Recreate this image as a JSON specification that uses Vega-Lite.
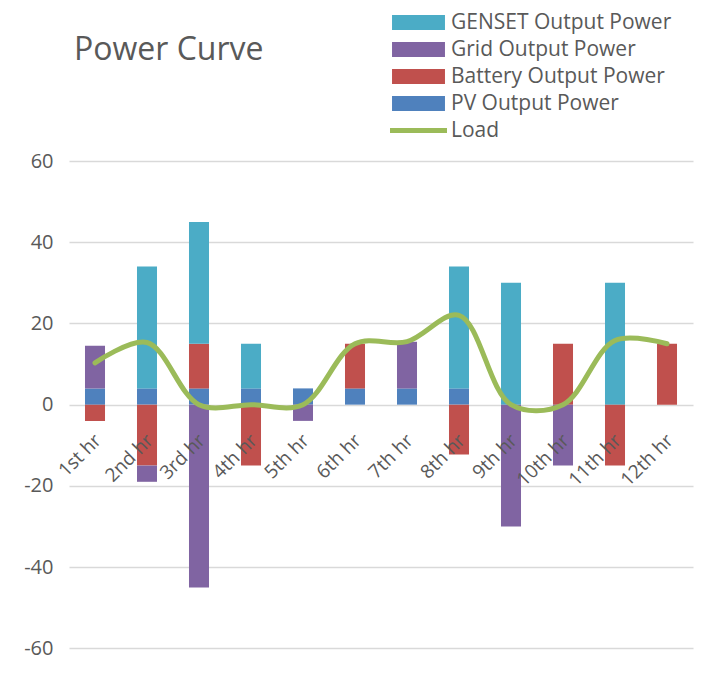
{
  "$schema": "https://vega.github.io/schema/vega-lite/v6.json",
  "width": 624,
  "height": 521,
  "autosize": {"type": "none"},
  "padding": {"left": 69, "top": 161, "right": 12, "bottom": 0},
  "background": "white",
  "config": {
    "font": "Open Sans",
    "view": {"stroke": null},
    "axis": {"labelFont": "Open Sans", "labelColor": "#595959"}
  },
  "title": {
    "text": "Power Curve",
    "anchor": "start",
    "frame": "group",
    "orient": "top",
    "offset": 0,
    "baseline": "alphabetic",
    "fontSize": 32,
    "fontWeight": "normal",
    "font": "Open Sans",
    "color": "#595959",
    "dx": 5,
    "dy": 80
  },
  "datasets": {
    "power": [
      {"hour": "1st hr", "series": "PV Output Power", "value": 4},
      {"hour": "1st hr", "series": "Grid Output Power", "value": 10.5},
      {"hour": "1st hr", "series": "Battery Output Power", "value": -4},
      {"hour": "2nd hr", "series": "PV Output Power", "value": 4},
      {"hour": "2nd hr", "series": "GENSET Output Power", "value": 30},
      {"hour": "2nd hr", "series": "Battery Output Power", "value": -15},
      {"hour": "2nd hr", "series": "Grid Output Power", "value": -4},
      {"hour": "3rd hr", "series": "PV Output Power", "value": 4},
      {"hour": "3rd hr", "series": "Battery Output Power", "value": 11},
      {"hour": "3rd hr", "series": "GENSET Output Power", "value": 30},
      {"hour": "3rd hr", "series": "Grid Output Power", "value": -45},
      {"hour": "4th hr", "series": "PV Output Power", "value": 4},
      {"hour": "4th hr", "series": "GENSET Output Power", "value": 11},
      {"hour": "4th hr", "series": "Battery Output Power", "value": -15},
      {"hour": "5th hr", "series": "PV Output Power", "value": 4},
      {"hour": "5th hr", "series": "Grid Output Power", "value": -4},
      {"hour": "6th hr", "series": "PV Output Power", "value": 4},
      {"hour": "6th hr", "series": "Battery Output Power", "value": 11},
      {"hour": "7th hr", "series": "PV Output Power", "value": 4},
      {"hour": "7th hr", "series": "Grid Output Power", "value": 11.5},
      {"hour": "8th hr", "series": "PV Output Power", "value": 4},
      {"hour": "8th hr", "series": "GENSET Output Power", "value": 30},
      {"hour": "8th hr", "series": "Battery Output Power", "value": -12.3},
      {"hour": "9th hr", "series": "GENSET Output Power", "value": 30},
      {"hour": "9th hr", "series": "Grid Output Power", "value": -30},
      {"hour": "10th hr", "series": "Battery Output Power", "value": 15},
      {"hour": "10th hr", "series": "Grid Output Power", "value": -15},
      {"hour": "11th hr", "series": "GENSET Output Power", "value": 30},
      {"hour": "11th hr", "series": "Battery Output Power", "value": -15},
      {"hour": "12th hr", "series": "Battery Output Power", "value": 15}
    ],
    "load": [
      {"hour": "1st hr", "load": 10.3},
      {"hour": "2nd hr", "load": 15.3},
      {"hour": "3rd hr", "load": 0},
      {"hour": "4th hr", "load": 0},
      {"hour": "5th hr", "load": 0},
      {"hour": "6th hr", "load": 15},
      {"hour": "7th hr", "load": 15.5},
      {"hour": "8th hr", "load": 22},
      {"hour": "9th hr", "load": 0},
      {"hour": "10th hr", "load": 0},
      {"hour": "11th hr", "load": 15.8},
      {"hour": "12th hr", "load": 15}
    ]
  },
  "layer": [
    {
      "data": {"name": "power"},
      "transform": [
        {"calculate": "indexof(['PV Output Power','Battery Output Power','Grid Output Power','GENSET Output Power'], datum.series)", "as": "stackOrder"}
      ],
      "mark": {"type": "bar"},
      "encoding": {
        "x": {
          "field": "hour",
          "type": "nominal",
          "sort": ["1st hr","2nd hr","3rd hr","4th hr","5th hr","6th hr","7th hr","8th hr","9th hr","10th hr","11th hr","12th hr"],
          "scale": {"paddingInner": 0.615, "paddingOuter": 0.3075},
          "axis": {
            "title": null,
            "orient": "bottom",
            "offset": -277,
            "domain": false,
            "ticks": false,
            "grid": false,
            "labelAngle": -45,
            "labelAlign": "right",
            "labelBaseline": "middle",
            "labelPadding": 32,
            "labelOffset": 3,
            "labelFontSize": 19,
            "labelColor": "#595959",
            "zindex": 1
          }
        },
        "y": {
          "field": "value",
          "type": "quantitative",
          "stack": "zero",
          "scale": {"domain": [-68.3, 60], "nice": false, "zero": false},
          "axis": {
            "title": null,
            "values": [-60, -40, -20, 0, 20, 40, 60],
            "labelExpr": "'' + datum.value",
            "domain": false,
            "ticks": false,
            "grid": true,
            "gridColor": "#D9D9D9",
            "gridWidth": 1.3,
            "labelFontSize": 20,
            "labelPadding": 16,
            "labelColor": "#595959",
            "zindex": 0
          }
        },
        "color": {
          "field": "series",
          "type": "nominal",
          "scale": {
            "domain": ["GENSET Output Power", "Grid Output Power", "Battery Output Power", "PV Output Power", "Load"],
            "range": ["#4BACC6", "#8064A2", "#C0504D", "#4F81BD", "#9BBB59"]
          },
          "legend": {
            "title": null,
            "orient": "none",
            "legendX": 339,
            "legendY": -149,
            "padding": 0,
            "symbolSize": 225,
            "symbolStrokeWidth": 0,
            "symbolOpacity": 1,
            "labelFontSize": 21,
            "labelFont": "Open Sans",
            "labelColor": "#595959",
            "labelOffset": 22,
            "rowPadding": 5,
            "labelLimit": 400,
            "encode": {
              "symbols": {
                "update": {
                  "shape": {"signal": "datum.value === 'Load' ? 'M-3.8,-0.33H3.8V0.33H-3.8Z' : 'M-3.53,-1H3.53V1H-3.53Z'"},
                  "fill": {"scale": "color", "field": "value"},
                  "strokeWidth": {"value": 0},
                  "opacity": {"value": 1}
                }
              }
            }
          }
        },
        "order": {"field": "stackOrder", "type": "quantitative"}
      }
    },
    {
      "data": {"name": "load"},
      "mark": {"type": "line", "interpolate": "catmull-rom", "strokeWidth": 5, "strokeCap": "round", "strokeJoin": "round"},
      "encoding": {
        "x": {
          "field": "hour",
          "type": "nominal",
          "sort": ["1st hr","2nd hr","3rd hr","4th hr","5th hr","6th hr","7th hr","8th hr","9th hr","10th hr","11th hr","12th hr"]
        },
        "y": {"field": "load", "type": "quantitative"},
        "color": {"datum": "Load"}
      }
    }
  ]
}
